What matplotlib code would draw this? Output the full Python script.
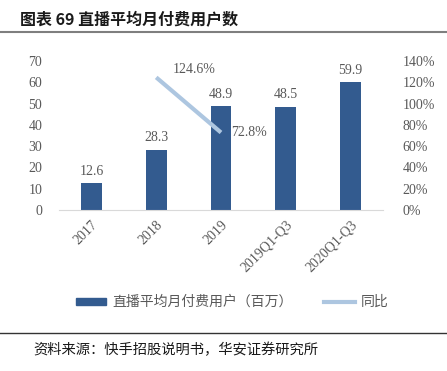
import matplotlib
matplotlib.use("Agg")
import matplotlib.pyplot as plt
from matplotlib.lines import Line2D
from matplotlib.patches import Rectangle

categories = ["2017", "2018", "2019", "2019Q1-Q3", "2020Q1-Q3"]
users = [12.6, 28.3, 48.9, 48.5, 59.9]
yoy_idx = [1, 2]
yoy = [124.6, 72.8]

bar_color = "#335b8f"
line_color = "#adc6e0"
grey = "#595959"
cjk = ["Noto Sans CJK SC", "DejaVu Sans"]
serif = ["Liberation Serif", "DejaVu Serif"]

fig = plt.figure(figsize=(4.47, 3.71), dpi=100)
fig.patch.set_facecolor("white")

# title + rules
fig.text(20 / 447, 1 - 20 / 371, "图表 69 直播平均月付费用户数", family=cjk,
         fontsize=11.5, fontweight="bold", va="center", ha="left", color="#1a1a1a")
fig.add_artist(Line2D([0, 1], [1 - 32 / 371] * 2, color="#7f7f7f", lw=1.5))
fig.add_artist(Line2D([0, 1], [1 - 333 / 371] * 2, color="#333333", lw=1.0))
fig.text(33 / 447, 1 - 350 / 371, "资料来源：快手招股说明书，华安证券研究所", family=cjk,
         fontsize=10.3, va="center", ha="left", color="#1a1a1a")

ax = fig.add_axes([59 / 447, 1 - 210 / 371, (383 - 59) / 447, (210 - 61) / 371])
x = list(range(len(categories)))
ax.bar(x, users, width=0.32, color=bar_color, zorder=2)
for xi, v in zip(x, users):
    ax.text(xi, v + 2.5, f"{v}", ha="center", va="bottom", fontsize=10,
            family=serif, color=grey)
ax.set_ylim(0, 70)
ax.set_xlim(-0.5, len(categories) - 0.5)
ax.set_yticks(range(0, 71, 10))
ax.set_xticks(x)
ax.set_xticklabels(categories, rotation=45, ha="right", rotation_mode="anchor",
                   family=serif, fontsize=10, color=grey)
for lab in ax.get_yticklabels():
    lab.set_family(serif)
    lab.set_fontsize(10)
    lab.set_color(grey)
ax.tick_params(length=0, pad=12)
ax.tick_params(axis="x", pad=6)
for s in ["top", "right", "left"]:
    ax.spines[s].set_visible(False)
ax.spines["bottom"].set_color("#d9d9d9")

ax2 = ax.twinx()
ax2.plot(yoy_idx, yoy, color=line_color, lw=3, solid_capstyle="butt", zorder=3)
ax2.set_ylim(0, 140)
ax2.set_yticks(range(0, 141, 20))
ax2.set_yticklabels([f"{t}%" for t in range(0, 141, 20)], family=serif,
                    fontsize=10, color=grey)
ax2.tick_params(length=0, pad=14)
for s in ["top", "right", "left", "bottom"]:
    ax2.spines[s].set_visible(False)
ax2.text(yoy_idx[0] + 0.25, yoy[0] + 1, f"{yoy[0]}%", ha="left", va="bottom",
         fontsize=10, family=serif, color=grey)
ax2.text(yoy_idx[1] + 0.16, yoy[1], f"{yoy[1]}%", ha="left", va="center",
         fontsize=10, family=serif, color=grey)

handles = [Rectangle((0, 0), 1, 1, color=bar_color),
           Line2D([], [], color=line_color, lw=3)]
leg = fig.legend(handles, ["直播平均月付费用户（百万）", "同比"], loc="center",
                 bbox_to_anchor=(232 / 447, 1 - 302 / 371), ncol=2, frameon=False,
                 prop={"family": cjk, "size": 10}, handlelength=2.2,
                 handleheight=0.4, columnspacing=2.3, handletextpad=0.4)
for t in leg.get_texts():
    t.set_color(grey)

fig.savefig("out.png", dpi=100, facecolor="white")
